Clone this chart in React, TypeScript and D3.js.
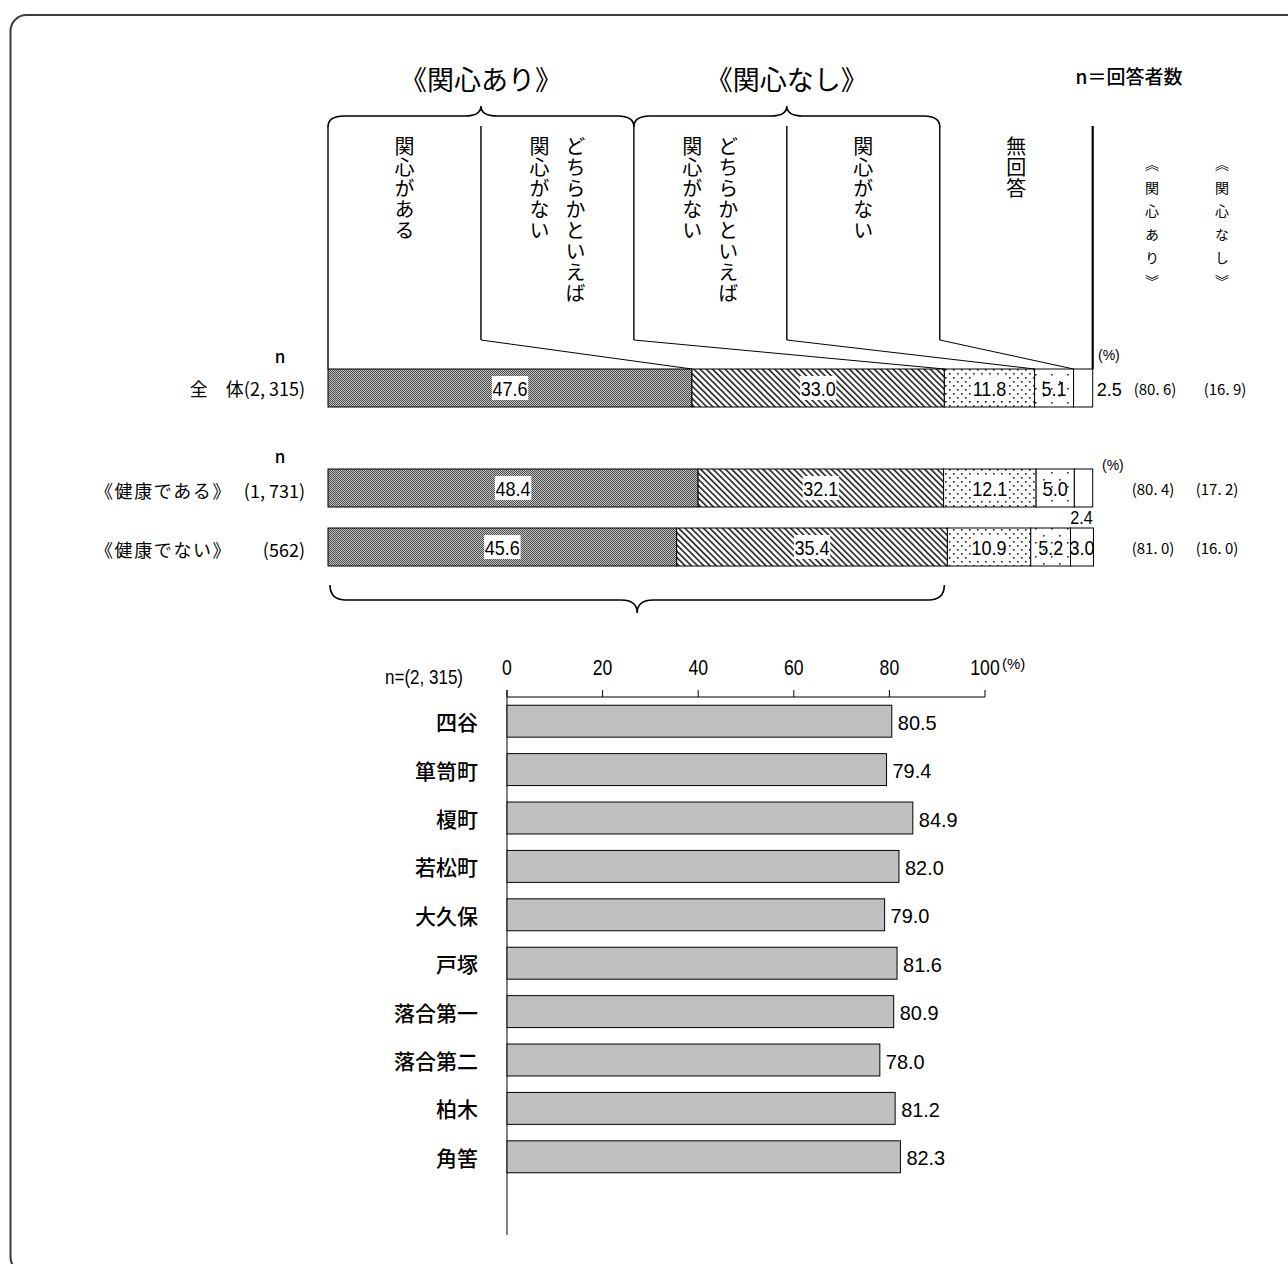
import React from "react";
import * as d3 from "d3";

// top stacked chart
const segmentNames = ["関心がある", "どちらかといえば関心がある", "どちらかといえば関心がない", "関心がない", "無回答"];
const headerLines = [["関心がある"], ["どちらかといえば", "関心がない"], ["どちらかといえば", "関心がない"], ["関心がない"], ["無回答"]];
const groupNames = ["全　体", "《健康である》", "《健康でない》"];
const groupN = ["(2, 315)", "(1, 731)", "(562)"];
const stackValues = [
  [47.6, 33.0, 11.8, 5.1, 2.5],
  [48.4, 32.1, 12.1, 5.0, 2.4],
  [45.6, 35.4, 10.9, 5.2, 3.0],
];
const lastLabelPlacement = ["right", "below", "inside"];
const interestYes = ["(80. 6)", "(80. 4)", "(81. 0)"];
const interestNo = ["(16. 9)", "(17. 2)", "(16. 0)"];

// bottom bar chart
const areas = ["四谷", "箪笥町", "榎町", "若松町", "大久保", "戸塚", "落合第一", "落合第二", "柏木", "角筈"];
const areaValues = [80.5, 79.4, 84.9, 82.0, 79.0, 81.6, 80.9, 78.0, 81.2, 82.3];
const axisTicks = [0, 20, 40, 60, 80, 100];

const JP = "'Noto Sans CJK JP', 'Noto Sans', sans-serif";
const NUM = "'Liberation Sans', Arial, sans-serif";

const W = 1288, H = 1264;

function brace(x0: number, x1: number, yBase: number, yFlat: number, yTip: number) {
  const mid = (x0 + x1) / 2;
  const r = 16;
  return `M${x0},${yBase} Q${x0},${yFlat} ${x0 + r},${yFlat} L${mid - r},${yFlat} Q${mid},${yFlat} ${mid},${yTip}` +
    ` Q${mid},${yFlat} ${mid + r},${yFlat} L${x1 - r},${yFlat} Q${x1},${yFlat} ${x1},${yBase}`;
}

// narrow numeric text (squeezed horizontally like Arial Narrow)
function NText(props: { x: number; y: number; size: number; sx: number; anchor?: string; children: React.ReactNode }) {
  const { x, y, size, sx, anchor, children } = props;
  return (
    <text transform={`translate(${x},${y}) scale(${sx},1)`} fontFamily={NUM} fontSize={size}
      textAnchor={anchor || "start"} dominantBaseline="central" fill="#000">{children}</text>
  );
}

export default function App() {
  const x = d3.scaleLinear().domain([0, 100]).range([328, 1092.7]);
  const col = d3.scaleLinear().domain([0, 5]).range([328, 1092.7]);
  const rowY = d3.scaleOrdinal<string, number>().domain(groupNames).range([369, 469, 528]);
  const rowH = 38;

  const bx = d3.scaleLinear().domain([0, 100]).range([507, 985]);
  const by = d3.scaleBand().domain(areas).range([697, 697 + 484]).paddingInner(0.34).paddingOuter(0.17);
  const axisY = 697;

  const patternIds = ["p0", "p1", "p2", "p3", "p4"];

  return (
    <svg width={W} height={H} style={{ position: "absolute", left: 0, top: 0, background: "#fff" }}>
      <defs>
        <pattern id="p0" width={2} height={2} patternUnits="userSpaceOnUse">
          <rect width={2} height={2} fill="#c4c4c4" />
          <rect width={1} height={1} fill="#4a4a4a" />
          <rect x={1} y={1} width={1} height={1} fill="#4a4a4a" />
        </pattern>
        <pattern id="p1" width={4.4} height={6} patternUnits="userSpaceOnUse" patternTransform="rotate(-45)">
          <rect width={4.4} height={6} fill="#fff" />
          <rect width={1.6} height={6} fill="#222" />
        </pattern>
        <pattern id="p2" width={8} height={8} patternUnits="userSpaceOnUse">
          <rect width={8} height={8} fill="#fff" />
          <rect x={1} y={1} width={1.6} height={1.6} fill="#222" />
          <rect x={5} y={5} width={1.6} height={1.6} fill="#222" />
        </pattern>
        <pattern id="p3" width={16} height={14} patternUnits="userSpaceOnUse">
          <rect width={16} height={14} fill="#fff" />
          <rect x={3} y={3} width={1.6} height={1.6} fill="#333" />
          <rect x={11} y={10} width={1.6} height={1.6} fill="#333" />
        </pattern>
        <pattern id="p4" width={4} height={4} patternUnits="userSpaceOnUse">
          <rect width={4} height={4} fill="#fff" />
        </pattern>
      </defs>

      {/* frame */}
      <rect x={10.5} y={15} width={1400} height={1258} rx={16} fill="none" stroke="#3c3c3c" strokeWidth={2} />

      {/* titles */}
      <g fontFamily={JP} fill="#000">
        <text x={col(1)} y={78} fontSize={27} textAnchor="middle" dominantBaseline="central">《関心あり》</text>
        <text x={col(3)} y={78} fontSize={27} textAnchor="middle" dominantBaseline="central">《関心なし》</text>
        <text x={1129} y={75} fontSize={19} fontWeight={500} textAnchor="middle" dominantBaseline="central">n＝回答者数</text>
      </g>

      {/* braces */}
      <g fill="none" stroke="#000" strokeWidth={1.6}>
        <path d={brace(col(0), col(2), 127, 116, 106)} />
        <path d={brace(col(2), col(4), 127, 116, 106)} />
        <path d={brace(x(0) + 2, x(stackValues[0][0] + stackValues[0][1]), 585, 600, 613)} />
      </g>

      {/* header columns */}
      <g stroke="#000" strokeWidth={1.4}>
        <line x1={col(0)} x2={col(0)} y1={126} y2={rowY(groupNames[0])} />
        {[1, 2, 3, 4].map(i => {
          const cum = d3.sum(stackValues[0].slice(0, i));
          return (
            <g key={i}>
              <line x1={col(i)} x2={col(i)} y1={126} y2={340} />
              <line x1={col(i)} x2={x(cum)} y1={340} y2={rowY(groupNames[0])} strokeWidth={1} />
            </g>
          );
        })}
        <line x1={col(5)} x2={col(5)} y1={126} y2={rowY(groupNames[0])} strokeWidth={2.2} />
      </g>
      <g fontFamily={JP} fontSize={20} fill="#000">
        {headerLines.map((lines, i) => {
          const cx = (col(i) + col(i + 1)) / 2;
          return lines.map((t, j) => (
            <text key={i + "-" + j} x={lines.length === 1 ? cx : cx + 18 - 36 * j} y={136}
              style={{ writingMode: "vertical-rl", letterSpacing: "1px" }}>{t}</text>
          ));
        })}
      </g>
      <g fontFamily={JP} fontSize={14} fill="#000">
        <text x={1152} y={157} style={{ writingMode: "vertical-rl", letterSpacing: "9.5px" }}>《関心あり》</text>
        <text x={1222} y={157} style={{ writingMode: "vertical-rl", letterSpacing: "9.5px" }}>《関心なし》</text>
      </g>

      {/* n labels */}
      <g fontFamily={JP} fontSize={17} fontWeight={500} fill="#000" textAnchor="middle" dominantBaseline="central">
        <text x={280} y={355}>n</text>
        <text x={280} y={455}>n</text>
      </g>

      {/* stacked rows */}
      {groupNames.map((g, r) => {
        const y0 = rowY(g);
        const vals = stackValues[r];
        const cum = vals.map((_, i) => d3.sum(vals.slice(0, i)));
        const cy = y0 + rowH / 2;
        return (
          <g key={g}>
            {r === 0 ? (
              <text x={305} y={cy} fontFamily={JP} fontSize={18} textAnchor="end" dominantBaseline="central">{g + groupN[r]}</text>
            ) : (
              <g fontFamily={JP} fontSize={18} dominantBaseline="central">
                <text x={95} y={cy + 2} style={{ letterSpacing: "1.6px" }}>{g}</text>
                <text x={305} y={cy + 2} textAnchor="end">{groupN[r]}</text>
              </g>
            )}
            {vals.map((v, i) => (
              <rect key={i} x={x(cum[i])} y={y0} width={x(cum[i] + v) - x(cum[i])} height={rowH}
                fill={`url(#${patternIds[i]})`} stroke="#000" strokeWidth={1} />
            ))}
            {vals.map((v, i) => {
              const label = v.toFixed(1);
              const mx = (x(cum[i]) + x(cum[i] + v)) / 2;
              if (i === vals.length - 1 && lastLabelPlacement[r] === "right") {
                return <NText key={"l" + i} x={x(100) + 4} y={cy + 1} size={19} sx={0.95}>{label}</NText>;
              }
              if (i === vals.length - 1 && lastLabelPlacement[r] === "below") {
                return <NText key={"l" + i} x={mx - 2} y={y0 + rowH + 11} size={18} sx={0.9} anchor="middle">{label}</NText>;
              }
              const tw = label.length * 8.6;
              return (
                <g key={"l" + i}>
                  {i < 3 && <rect x={mx - tw / 2 - 1} y={cy - 12} width={tw + 2} height={24} fill="#fff" />}
                  <NText x={mx} y={cy + 1} size={20} sx={0.9} anchor="middle">{label}</NText>
                </g>
              );
            })}
            <text x={r === 0 ? 1155 : 1153} y={cy} fontFamily={JP} fontSize={15} textAnchor="middle" dominantBaseline="central">{interestYes[r]}</text>
            <text x={r === 0 ? 1225 : 1217} y={cy} fontFamily={JP} fontSize={15} textAnchor="middle" dominantBaseline="central">{interestNo[r]}</text>
          </g>
        );
      })}
      <g fontFamily={NUM} fontSize={14} fill="#000">
        <text x={1098} y={360}>(%)</text>
        <text x={1102} y={470}>(%)</text>
      </g>

      {/* bottom bar chart */}
      <g>
        <line x1={bx(0)} x2={bx(100)} y1={axisY} y2={axisY} stroke="#000" strokeWidth={1} />
        <line x1={bx(0)} x2={bx(0)} y1={axisY - 7} y2={1235} stroke="#000" strokeWidth={1} />
        {axisTicks.map(t => (
          <g key={t}>
            <line x1={bx(t)} x2={bx(t)} y1={axisY - 7} y2={axisY} stroke="#000" strokeWidth={1} />
            <NText x={bx(t)} y={667} size={22} sx={0.8} anchor="middle">{t}</NText>
          </g>
        ))}
        <text x={bx(100) + 17} y={663} fontFamily={NUM} fontSize={15} dominantBaseline="central">(%)</text>
        <NText x={463} y={677} size={20} sx={0.85} anchor="end">n=(2, 315)</NText>
        {areas.map((a, i) => {
          const y0 = by(a) as number;
          return (
            <g key={a}>
              <rect x={bx(0)} y={y0} width={bx(areaValues[i]) - bx(0)} height={by.bandwidth()} fill="#c0c0c0" stroke="#000" strokeWidth={1} />
              <text x={478} y={y0 + by.bandwidth() / 2} fontFamily={JP} fontSize={21} fontWeight={500} textAnchor="end" dominantBaseline="central">{a}</text>
              <NText x={bx(areaValues[i]) + 6} y={y0 + by.bandwidth() / 2 + 1} size={21} sx={0.95}>{areaValues[i].toFixed(1)}</NText>
            </g>
          );
        })}
      </g>
    </svg>
  );
}
